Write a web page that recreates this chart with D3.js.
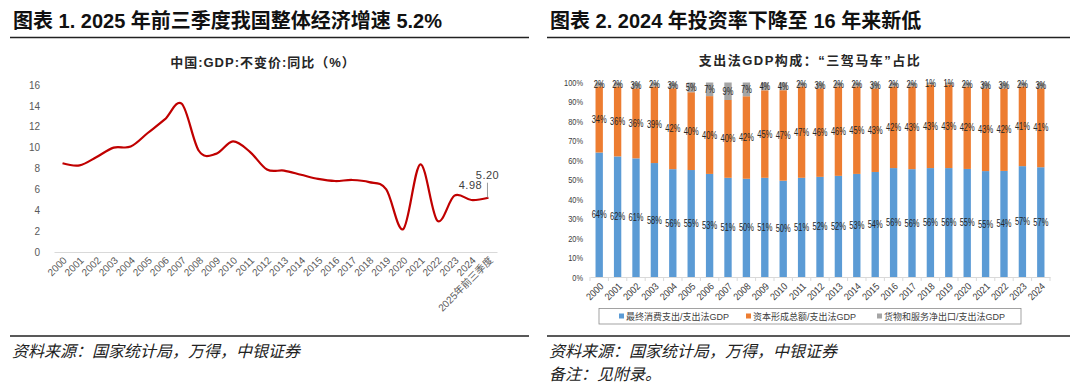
<!DOCTYPE html>
<html><head><meta charset="utf-8">
<script src="https://cdn.jsdelivr.net/npm/d3@7"></script>
<style>
html,body{margin:0;padding:0;background:#fff;}
svg{display:block;}
text{font-family:"Liberation Sans","Noto Sans CJK SC",sans-serif;}
</style></head>
<body>
<svg id="c" width="1080" height="388"></svg>
<script>
// ---------- data ----------
const gdpYears = ["2000","2001","2002","2003","2004","2005","2006","2007","2008","2009","2010","2011","2012","2013","2014","2015","2016","2017","2018","2019","2020","2021","2022","2023","2024","2025年前三季度"];
const gdpGrowth = [8.5,8.3,9.1,10.0,10.1,11.4,12.7,14.2,9.7,9.4,10.6,9.6,7.9,7.8,7.4,7.0,6.8,6.9,6.7,6.0,2.2,8.4,3.0,5.4,4.98,5.2];
const gdpTicks = [0,2,4,6,8,10,12,14,16];

const compYears = ["2000","2001","2002","2003","2004","2005","2006","2007","2008","2009","2010","2011","2012","2013","2014","2015","2016","2017","2018","2019","2020","2021","2022","2023","2024"];
const consumption = [64,62,61,58,56,55,53,51,50,51,50,51,52,52,53,54,56,56,56,56,55,55,54,57,57];
const capital = [34,36,36,39,42,40,40,40,42,45,47,47,46,46,45,43,42,43,43,43,42,43,42,41,41];
const netExports = [2,2,3,2,3,5,7,9,7,4,4,2,3,2,2,3,2,2,1,1,2,3,3,2,3];
const seriesNames = ["最终消费支出/支出法GDP","资本形成总额/支出法GDP","货物和服务净出口/支出法GDP"];
const pctTicks = [0,0.1,0.2,0.3,0.4,0.5,0.6,0.7,0.8,0.9,1.0];

const svg = d3.select("#c");

function squeeze(sel, f){
  sel.each(function(){
    const L = this.getComputedTextLength();
    d3.select(this).attr("textLength", L * f).attr("lengthAdjust", "spacingAndGlyphs");
  });
}

// ---------- headers ----------
function header(x0, x1, title){
  svg.append("text").attr("x", x0+3).attr("y", 28)
    .attr("font-size", 20).attr("font-weight", "bold")
    .attr("font-family", "'Liberation Serif','Noto Sans CJK SC',serif")
    .attr("fill", "#111").text(title);
  svg.append("line").attr("x1", x0).attr("x2", x1).attr("y1", 37.5).attr("y2", 37.5)
    .attr("stroke", "#222").attr("stroke-width", 1.5);
  svg.append("line").attr("x1", x0).attr("x2", x1).attr("y1", 336).attr("y2", 336)
    .attr("stroke", "#222").attr("stroke-width", 1.5);
}
header(10, 529, "图表 1. 2025 年前三季度我国整体经济增速 5.2%");
header(547, 1070, "图表 2. 2024 年投资率下降至 16 年来新低");

function foot(x, y, t){
  svg.append("text").attr("x", x).attr("y", y).attr("font-size", 16)
    .attr("font-style", "italic").attr("font-family", "'Noto Sans CJK SC',sans-serif")
    .attr("fill", "#222").text(t);
}
foot(12, 357, "资料来源：国家统计局，万得，中银证券");
foot(549, 357, "资料来源：国家统计局，万得，中银证券");
foot(549, 380, "备注：见附录。");

// ---------- left chart ----------
{
  const x = d3.scaleBand().domain(gdpYears).range([54, 497]);
  const y = d3.scaleLinear().domain([0, 16]).range([252, 85]);
  const g = svg.append("g");
  g.append("text").attr("x", 263).attr("y", 67).attr("text-anchor", "middle")
    .attr("font-size", 13).attr("font-weight", "bold").attr("letter-spacing", 1)
    .attr("font-family", "'Noto Sans CJK SC',sans-serif").attr("fill", "#262626")
    .text("中国:GDP:不变价:同比（%）");

  const ya = g.append("g").attr("transform", "translate(54,0)")
    .call(d3.axisLeft(y).tickValues(gdpTicks).tickSize(0).tickPadding(14));
  ya.select(".domain").remove();
  ya.selectAll("text").attr("font-size", 10).attr("fill", "#595959")
    .attr("font-family", "'Liberation Sans',sans-serif");

  const xa = g.append("g").attr("transform", "translate(0,252)")
    .call(d3.axisBottom(x).tickSize(0).tickPadding(0));
  xa.select(".domain").attr("stroke", "#d9d9d9");
  xa.selectAll("text").attr("font-size", 10).attr("fill", "#595959")
    .attr("font-family", "'Liberation Sans','Noto Sans CJK SC',sans-serif")
    .attr("text-anchor", "end").attr("dy", 0)
    .attr("transform", "translate(5,9) rotate(-45)");

  const line = d3.line().x((d, i) => x(gdpYears[i]) + x.bandwidth()/2).y(d => y(d))
    .curve(d3.curveCardinal.tension(0));
  g.append("path").datum(gdpGrowth).attr("d", line).attr("fill", "none")
    .attr("stroke", "#C00000").attr("stroke-width", 2.2);

  // annotations
  const n = gdpGrowth.length;
  const px24 = x(gdpYears[n-2]) + x.bandwidth()/2, py24 = y(gdpGrowth[n-2]);
  const px25 = x(gdpYears[n-1]) + x.bandwidth()/2, py25 = y(gdpGrowth[n-1]);
  g.append("text").attr("x", px24 - 1).attr("y", py24 - 11).attr("text-anchor", "middle")
    .attr("font-size", 11).attr("fill", "#404040").attr("letter-spacing", 0.5)
    .attr("font-family", "'Liberation Sans',sans-serif")
    .text(d3.format(".2f")(gdpGrowth[n-2]));
  g.append("text").attr("x", px25 - 1).attr("y", py25 - 19).attr("text-anchor", "middle")
    .attr("font-size", 11).attr("fill", "#404040").attr("letter-spacing", 0.5)
    .attr("font-family", "'Liberation Sans',sans-serif")
    .text(d3.format(".2f")(gdpGrowth[n-1]));
  g.append("line").attr("x1", px25 - 1).attr("x2", px25 - 1).attr("y1", py25 - 15).attr("y2", py25)
    .attr("stroke", "#808080").attr("stroke-width", 0.8);
}

// ---------- right chart ----------
{
  const x = d3.scaleBand().domain(compYears).range([590, 1050]).paddingInner(0.6).paddingOuter(0.3);
  const y = d3.scaleLinear().domain([0, 1]).range([277, 82.5]);
  const colors = ["#5B9BD5", "#ED7D31", "#A5A5A5"];
  const g = svg.append("g");
  g.append("text").attr("x", 810).attr("y", 65).attr("text-anchor", "middle")
    .attr("font-size", 13).attr("font-weight", "bold").attr("letter-spacing", 1.5)
    .attr("font-family", "'Noto Sans CJK SC',sans-serif").attr("fill", "#262626")
    .text("支出法GDP构成：“三驾马车”占比");

  const ya = g.append("g").attr("transform", "translate(590,0)")
    .call(d3.axisLeft(y).tickValues(pctTicks).tickFormat(d3.format(".0%")).tickSize(0).tickPadding(7));
  ya.select(".domain").remove();
  ya.selectAll("text").attr("font-size", 9.5).attr("fill", "#404040")
    .attr("font-family", "'Liberation Sans',sans-serif");
  squeeze(ya.selectAll("text"), 0.78);

  const rows = compYears.map((yr, i) => ({year: yr, a: consumption[i], b: capital[i], c: netExports[i]}));
  const stack = d3.stack().keys(["a", "b", "c"]).offset(d3.stackOffsetExpand);
  const layers = stack(rows);

  layers.forEach((layer, k) => {
    g.append("g").selectAll("rect").data(layer).join("rect")
      .attr("x", d => x(d.data.year)).attr("width", x.bandwidth())
      .attr("y", d => y(d[1])).attr("height", d => y(d[0]) - y(d[1]))
      .attr("fill", colors[k]);
  });

  const xa = g.append("g").attr("transform", "translate(0,277)")
    .call(d3.axisBottom(x).tickSize(0).tickPadding(0));
  xa.select(".domain").attr("stroke", "#d9d9d9");
  g.append("g").selectAll("line").data(d3.range(compYears.length + 1)).join("line")
    .attr("x1", i => 590 + i * x.step()).attr("x2", i => 590 + i * x.step())
    .attr("y1", 277).attr("y2", 281).attr("stroke", "#d9d9d9");
  xa.selectAll("text").attr("font-size", 10).attr("fill", "#404040")
    .attr("font-family", "'Liberation Sans',sans-serif")
    .attr("text-anchor", "end").attr("dy", 0)
    .attr("transform", "translate(5,10) rotate(-45)");
  squeeze(xa.selectAll("text"), 0.88);

  layers.forEach((layer, k) => {
    const t = g.append("g").selectAll("text").data(layer).join("text")
      .attr("x", d => x(d.data.year) + x.bandwidth()/2)
      .attr("y", d => (y(d[0]) + y(d[1]))/2 + 3.5)
      .attr("text-anchor", "middle").attr("font-size", 10)
      .attr("font-family", "'Liberation Sans',sans-serif")
      .attr("fill", "#262626")
      .text(d => d.data[layer.key] + "%");
    squeeze(t, 0.75);
  });

  // legend
  const lg = g.append("g");
  lg.append("rect").attr("x", 599).attr("y", 308.5).attr("width", 422).attr("height", 15.5)
    .attr("fill", "#fff").attr("stroke", "#8c8c8c").attr("stroke-width", 0.8);
  const lx = [619, 746, 877];
  seriesNames.forEach((s, k) => {
    lg.append("rect").attr("x", lx[k]).attr("y", 313.5).attr("width", 5).attr("height", 5).attr("fill", colors[k]);
    lg.append("text").attr("x", lx[k] + 7).attr("y", 319.5).attr("font-size", 9)
      .attr("font-family", "'Noto Sans CJK SC',sans-serif").attr("fill", "#404040").text(s);
  });
}
</script>
</body></html>
